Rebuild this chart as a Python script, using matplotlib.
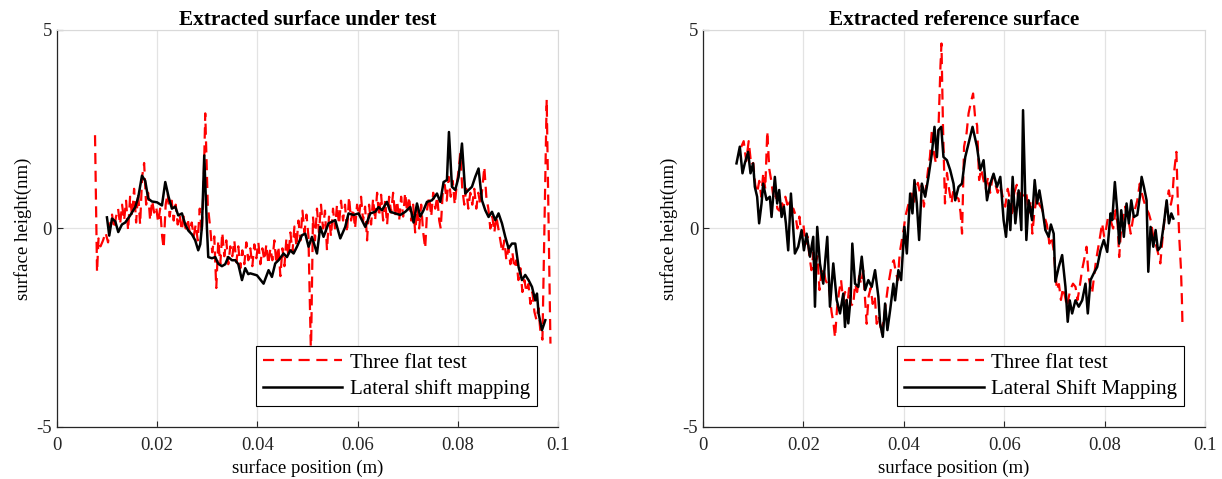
import numpy as np
import matplotlib
matplotlib.use('Agg')
import matplotlib.pyplot as plt

plt.rcParams.update({
    'font.family': 'serif',
    'font.serif': ['Liberation Serif', 'DejaVu Serif'],
    'axes.unicode_minus': False,
    'font.size': 13,
})

# ---- surface under test (positions in mm, heights in nm) ----
test_three_x = [7.6, 8.0, 8.3, 8.7, 9.2, 9.7, 10.2, 10.6, 11.0, 11.4, 11.8, 12.2, 12.6, 13.0, 13.4, 13.8,
                14.2, 14.6, 15.0, 15.4, 15.8, 16.2, 16.6, 17.0, 17.4, 17.8, 18.2, 18.6, 19.0, 19.4, 19.8,
                20.2, 20.6, 21.0, 21.3, 21.7, 22.1, 22.5, 22.9, 23.3, 23.7, 24.1, 24.5, 24.9, 25.3, 25.7,
                26.1, 26.5, 26.9, 27.3, 27.7, 28.1, 28.5, 28.9, 29.3, 29.6, 30.1, 30.6, 31.0, 31.4, 31.8,
                32.2, 32.6, 33.0, 33.4, 33.8, 34.2, 34.6, 35.0, 35.4, 35.8, 36.2, 36.6, 37.0, 37.4, 37.8,
                38.2, 38.6, 39.0, 39.4, 39.8, 40.2, 40.6, 41.0, 41.4, 41.8, 42.2, 42.6, 43.0, 43.4, 43.8,
                44.2, 44.6, 45.0, 45.4, 45.8, 46.2, 46.6, 47.0, 47.4, 47.8, 48.2, 48.6, 49.0, 49.4, 49.8,
                50.2, 50.7, 51.1, 51.5, 51.9, 52.3, 52.7, 53.1, 53.5, 53.9, 54.3, 54.7, 55.1, 55.5, 55.9,
                56.3, 56.7, 57.1, 57.5, 57.9, 58.3, 58.7, 59.1, 59.5, 59.9, 60.3, 60.7, 61.1, 61.5, 61.9,
                62.3, 62.7, 63.1, 63.5, 63.9, 64.3, 64.7, 65.1, 65.5, 65.9, 66.3, 66.7, 67.1, 67.5, 67.9,
                68.3, 68.7, 69.1, 69.5, 69.9, 70.3, 70.7, 71.1, 71.5, 71.9, 72.3, 72.7, 73.1, 73.5, 73.9,
                74.3, 74.7, 75.1, 75.5, 75.9, 76.3, 76.6, 77.0, 77.4, 77.8, 78.2, 78.6, 79.0, 79.4, 79.8,
                80.2, 80.5, 80.9, 81.3, 81.7, 82.1, 82.5, 82.9, 83.3, 83.7, 84.1, 84.5, 84.9, 85.3, 85.7,
                86.1, 86.5, 86.9, 87.3, 87.7, 88.1, 88.5, 88.9, 89.3, 89.7, 90.1, 90.5, 90.9, 91.3, 91.7,
                92.1, 92.5, 92.9, 93.3, 93.7, 94.1, 94.5, 94.9, 95.3, 95.7, 96.1, 96.5, 96.9, 97.75, 98.5]
test_three_y = [2.35, -1.1, -0.25, -0.45, -0.3, -0.1, -0.35, 0.1, 0.35, 0.0, 0.3, 0.5, 0.1, 0.6, 0.2, 0.7,
                -0.05, 0.8, 0.3, 1.0, 0.15, 0.9, 0.1, 1.3, 1.65, 0.6, 0.9, 0.2, 0.7, 0.4, 0.55,
                0.15, 0.5, -0.2, -0.5, 0.6, 0.9, 0.3, 0.7, 0.2, 0.6, 0.1, 0.35, -0.05, 0.3, 0.0,
                0.25, -0.1, 0.15, -0.2, 0.1, -0.3, 0.5, -0.1, 1.2, 2.9, 0.6, 0.0, -0.6, -0.2, -1.5,
                -0.3, -0.9, -0.1, -0.7, -0.3, -0.9, -0.45, -0.7, -0.3, -0.85, -0.45, -1.0, -0.55, -0.9, -0.35,
                -0.8, -0.5, -0.95, -0.4, -0.75, -0.35, -0.9, -0.5, -0.8, -0.4, -0.9, -0.5, -0.8, -0.3, -0.9,
                -0.45, -1.2, -0.5, -0.95, -0.25, -0.7, -0.1, -0.6, 0.05, -0.45, 0.2, -0.3, 0.45, -0.1, 0.35,
                -0.2, -3.2, 0.3, -0.3, 0.5, -0.1, 0.6, 0.0, 0.45, -0.55, 0.3, -0.2, 0.5, 0.0, 0.6,
                0.1, 0.7, 0.2, 0.6, -0.1, 0.8, 0.2, 0.5, 0.0, 0.6, 0.3, 0.8, 0.2, 0.55, -0.3,
                0.6, 0.1, 0.75, 0.2, 0.9, 0.3, 0.85, 0.2, 0.7, 0.1, 0.8, 0.4, 0.9, 0.3, 0.7,
                0.2, 0.8, 0.3, 0.9, 0.4, 0.8, 0.2, 0.6, -0.1, 0.5, 0.0, 0.6, -0.1, -0.5, 0.5,
                0.8, 0.3, 0.9, 0.5, 0.8, 0.2, 0.0, 0.9, 1.1, 0.7, 1.3, 0.8, 1.2, 0.6, 1.1,
                1.5, 1.9, 1.0, 0.6, 1.0, 0.5, 0.9, 0.6, 1.0, 0.5, 0.9, 0.6, 1.0, 1.55, 0.8,
                0.5, 0.0, 0.3, -0.1, 0.3, 0.0, -0.3, -0.6, -0.3, -0.8, -0.5, -0.9, -0.6, -1.0, -0.8,
                -1.3, -1.0, -1.6, -1.3, -1.6, -1.4, -1.9, -1.6, -2.1, -2.3, -2.0, -2.6, -2.8, 3.25, -2.9]

test_lsm_x = [9.98, 10.44, 10.98, 11.64, 12.24, 12.97, 13.63, 14.63, 15.63, 16.23, 16.97, 17.62, 18.22,
              18.96, 19.96, 20.96, 21.62, 22.28, 22.95, 23.61, 24.21, 24.95, 25.61, 26.21, 26.95, 27.6,
              28.2, 28.6, 28.94, 29.4, 29.94, 30.2, 30.94, 31.6, 32.2, 32.93, 33.59, 34.19, 34.93, 35.59,
              36.19, 36.93, 37.58, 38.18, 38.58, 39.92, 41.24, 42.24, 42.91, 43.57, 44.23, 45.23, 45.91,
              46.57, 47.23, 47.9, 48.9, 49.56, 50.22, 50.9, 51.9, 52.55, 53.21, 54.21, 55.55, 56.55,
              57.54, 58.2, 59.2, 60.2, 61.54, 62.54, 63.53, 64.19, 64.87, 65.87, 66.53, 67.52, 68.52,
              69.52, 70.52, 71.18, 71.86, 72.52, 73.17, 73.85, 74.85, 75.85, 76.51, 77.17, 77.84, 78.24,
              78.84, 79.5, 80.16, 80.84, 81.5, 82.16, 82.83, 83.49, 84.15, 84.83, 85.49, 86.15, 86.83,
              87.49, 88.14, 88.82, 89.48, 90.14, 90.82, 91.48, 92.14, 92.81, 93.47, 94.13, 94.81, 95.47,
              95.81, 96.13, 96.81, 97.47]
test_lsm_y = [0.28, -0.18, 0.25, 0.18, -0.09, 0.1, 0.15, 0.33, 0.54, 0.79, 1.33, 1.2, 0.75,
              0.68, 0.66, 0.58, 1.17, 0.8, 0.5, 0.55, 0.33, 0.38, 0.1, -0.05, -0.15, -0.3,
              -0.55, -0.4, 0.05, 1.84, 0.0, -0.72, -0.75, -0.72, -0.89, -0.95, -0.9, -0.72, -0.8, -0.8,
              -0.9, -1.3, -1.0, -1.15, -1.13, -1.18, -1.39, -1.05, -1.22, -0.88, -0.8, -0.63, -0.72,
              -0.55, -0.63, -0.46, -0.17, -0.13, -0.46, -0.21, -0.63, 0.04, -0.21, 0.13, 0.21, -0.25,
              0.04, 0.38, 0.34, 0.38, 0.04, 0.38, 0.42, 0.54, 0.46, 0.67, 0.42, 0.38, 0.34,
              0.42, 0.54, 0.15, 0.63, 0.3, 0.46, 0.67, 0.71, 0.88, 0.67, 1.17, 1.22, 2.43,
              1.05, 0.97, 1.3, 2.14, 0.88, 0.97, 1.05, 1.3, 1.51, 0.71, 0.46, 0.29, 0.42,
              0.21, 0.38, 0.13, -0.21, -0.5, -0.38, -0.38, -0.97, -1.3, -1.17, -1.3, -1.47, -1.81,
              -1.64, -2.14, -2.56, -2.31]

# ---- reference surface (positions in mm, heights in nm) ----
ref_three_x = [7.6, 8.1, 8.6, 9.1, 9.6, 10.0, 10.4, 10.8, 11.2, 11.6, 12.0, 12.4, 12.8, 13.2, 13.6, 14.0,
               14.4, 14.8, 15.2, 15.6, 16.0, 16.4, 16.8, 17.2, 17.6, 18.0, 18.4, 18.8, 19.2, 19.6, 20.0,
               20.4, 20.8, 21.2, 21.6, 22.0, 22.4, 22.8, 23.2, 23.6, 24.0, 24.4, 24.8, 25.2, 25.6, 26.0,
               26.3, 26.7, 27.1, 27.5, 27.9, 28.3, 28.7, 29.1, 29.5, 29.9, 30.3, 30.7, 31.1, 31.5, 31.9,
               32.3, 32.6, 33.0, 33.4, 33.8, 34.2, 34.6, 35.0, 35.6, 36.0, 36.4, 36.8, 37.2, 37.6, 38.0,
               38.4, 38.8, 39.2, 39.6, 40.0, 40.3, 40.7, 41.1, 41.6, 42.0, 42.4, 42.8, 43.2, 43.6, 44.0,
               44.4, 44.8, 45.2, 45.6, 46.0, 46.4, 46.9, 47.3, 47.5, 47.8, 48.2, 48.6, 49.0, 49.5, 49.9,
               50.3, 50.9, 51.3, 51.6, 52.0, 52.5, 52.9, 53.4, 53.8, 54.2, 54.6, 55.0, 55.4, 55.9, 56.3,
               56.8, 57.2, 57.7, 58.2, 58.7, 59.2, 59.7, 60.2, 60.7, 61.2, 61.6, 62.0, 62.5, 62.9, 63.4,
               63.9, 64.4, 64.9, 65.3, 65.6, 66.0, 66.5, 67.0, 67.5, 68.0, 68.5, 69.0, 69.4, 69.8, 70.2,
               70.5, 70.9, 71.3, 71.7, 72.1, 72.5, 72.9, 73.3, 73.7, 74.2, 74.6, 75.0, 75.5, 75.9, 76.4,
               76.8, 77.2, 77.5, 77.9, 78.3, 78.7, 79.1, 79.5, 79.9, 80.3, 80.7, 81.2, 81.7, 82.2, 82.6,
               82.9, 83.3, 83.7, 84.1, 84.5, 84.9, 85.2, 85.6, 86.0, 86.5, 87.0, 87.4, 87.8, 88.3, 88.8,
               89.2, 89.6, 90.0, 90.4, 90.8, 91.1, 91.5, 91.9, 92.4, 92.8, 93.2, 93.5, 93.8, 94.3, 94.6,
               94.9, 95.2, 95.4, 95.5]
ref_three_y = [2.05, 2.2, 1.7, 2.2, 1.6, 1.65, 1.1, 0.9, 1.2, 0.8, 1.4, 1.0, 2.45, 1.5, 1.2, 0.8,
               1.0, 0.5, 0.45, 0.7, 0.5, 0.8, 0.6, 0.75, 0.3, 0.5, 0.35, 0.0, 0.3, -0.2, 0.1,
               -0.4, -0.2, -0.7, -1.05, -0.6, -0.9, -0.7, -1.55, -1.1, -1.0, -1.3, -1.4, -1.6, -2.1, -2.4,
               -2.75, -2.0, -1.6, -1.3, -1.8, -1.6, -2.0, -1.5, -1.9, -1.95, -1.4, -1.6, -1.2, -1.4, -1.05,
               -1.8, -2.4, -1.7, -1.5, -1.9, -1.7, -2.4, -2.2, -2.65, -2.3, -1.9, -1.5, -1.2, -0.9, -0.8,
               -1.1, -1.3, -0.6, -0.3, 0.0, 0.3, 0.5, 0.7, 0.88, 0.6, 1.0, 1.15, 0.9, 1.1, 0.55,
               1.0, 1.45, 1.8, 2.5, 1.9, 1.64, 2.5, 4.1, 4.66, 2.6, 0.63, 1.4, 1.0, 0.63, 1.0,
               0.8, 0.75, 0.4, -0.13, 2.06, 2.4, 2.9, 3.2, 3.4, 2.8, 2.6, 1.22, 1.5, 1.2, 1.0,
               1.3, 0.9, 1.3, 1.13, 0.9, 1.1, 0.8, 0.55, 1.0, 0.7, 0.3, 0.9, 1.1, 0.6, 0.9,
               0.8, 0.9, 0.4, 0.7, -0.13, 0.4, 0.8, 0.6, 0.5, 0.3, 0.1, -0.38, -0.2, -0.5, -1.1,
               -1.55, -1.4, -1.8, -1.5, -1.7, -1.97, -1.7, -1.5, -1.39, -1.47, -1.8, -1.5, -1.05, -0.8, -0.46,
               -1.2, -1.5, -1.64, -1.2, -0.8, -0.5, -0.2, 0.13, -0.2, 0.0, 0.3, 0.2, 0.0, 0.46, 0.1,
               -0.72, 0.0, 0.3, 0.55, 0.2, 0.1, -0.13, 0.2, 0.46, 0.7, 1.13, 0.9, 0.7, 0.5, 0.38,
               0.2, -0.13, -0.3, -0.5, -0.7, -0.88, -0.3, 0.2, 0.71, 0.96, 0.6, 0.8, 1.38, 1.93, 0.6,
               -0.3, -1.0, -1.8, -2.39]

ref_lsm_x = [6.67, 7.33, 7.86, 8.32, 8.98, 9.46, 9.98, 10.32, 10.78, 11.18, 11.66, 11.98, 12.65, 13.31,
             13.65, 14.31, 14.77, 15.17, 15.65, 16.11, 16.51, 16.97, 17.51, 18.3, 18.96, 19.64, 20.1,
             20.64, 21.3, 21.96, 22.3, 22.75, 23.29, 23.95, 24.75, 25.29, 25.95, 26.63, 27.29, 27.94,
             28.28, 28.62, 28.94, 29.42, 29.74, 30.28, 30.94, 31.62, 32.28, 32.93, 33.61, 34.27, 34.93,
             35.27, 35.81, 36.27, 36.73, 37.27, 37.92, 38.26, 38.92, 39.46, 40.12, 40.6, 41.26, 41.72,
             42.12, 42.59, 43.05, 43.59, 44.25, 44.91, 45.59, 46.11, 46.59, 46.91, 47.45, 47.9, 48.58,
             49.24, 49.9, 50.24, 50.9, 51.58, 52.24, 52.89, 53.69, 54.57, 55.23, 55.89, 56.57, 57.23,
             57.88, 58.56, 59.22, 59.88, 60.36, 60.88, 61.22, 61.68, 62.22, 62.87, 63.41, 63.75, 64.41,
             64.87, 65.55, 66.07, 66.55, 67.01, 67.54, 68.2, 68.86, 69.3, 69.86, 70.2, 70.86, 71.54,
             72.2, 72.65, 73.05, 73.53, 74.19, 74.85, 75.53, 76.19, 76.65, 77.19, 77.84, 78.52, 79.18,
             79.84, 80.52, 81.18, 81.52, 82.04, 82.51, 82.91, 83.31, 83.83, 84.37, 84.83, 85.31, 85.83,
             86.51, 87.03, 87.37, 87.82, 88.36, 88.7, 89.16, 89.7, 90.16, 90.62, 91.16, 91.82, 92.36,
             92.81, 93.29, 93.69]
ref_lsm_y = [1.64, 2.06, 1.39, 1.64, 1.93, 1.39, 1.64, 1.05, 0.8, 0.13, 0.63, 1.13, 0.72, 0.8,
             0.29, 1.3, 0.63, 0.97, 0.29, 0.55, 0.13, -0.55, 0.88, -0.63, -0.46, -0.04, -0.55,
             -0.13, -0.71, -0.21, -1.97, 0.04, -0.88, -1.39, -0.21, -1.97, -0.88, -1.8, -2.14, -1.64,
             -2.48, -1.8, -2.39, -1.72, -0.38, -1.39, -1.47, -0.71, -1.55, -1.3, -1.47, -1.05, -1.72,
             -2.39, -2.73, -1.89, -2.56, -2.06, -1.39, -1.81, -1.05, -1.3, 0.04, -0.63, 0.88, 0.38,
             1.22, 0.63, -0.29, 1.13, 0.8, 1.3, 1.89, 2.56, 1.8, 2.48, 2.56, 1.8, 1.72,
             1.47, 1.13, 0.71, 1.05, 1.13, 1.8, 2.14, 2.56, 2.06, 1.47, 1.72, 0.71, 1.13,
             1.38, 1.05, 1.3, 0.21, -0.21, 0.71, -0.04, 1.3, 0.13, 0.96, -0.04, 2.98, -0.29,
             0.71, 0.21, 1.22, 0.63, 0.96, 0.55, -0.04, -0.21, 0.1, -0.13, -1.34, -0.97, -0.67,
             -1.47, -2.35, -1.81, -2.14, -1.81, -1.97, -1.81, -1.39, -2.14, -1.3, -1.13, -0.97, -0.55,
             -0.29, -0.59, 0.38, 0.21, 1.17, 0.46, -0.38, 0.46, -0.21, 0.63, 0.13, 0.71, 0.29,
             0.34, 0.8, 1.3, 1.05, 0.71, -1.09, 0.04, -0.46, -0.04, -0.55, -0.46, 0.13, 0.71,
             0.13, 0.38, 0.25]

panels = [
    ('Extracted surface under test', test_three_x, test_three_y, test_lsm_x, test_lsm_y,
     'Lateral shift mapping'),
    ('Extracted reference surface', ref_three_x, ref_three_y, ref_lsm_x, ref_lsm_y,
     'Lateral Shift Mapping'),
]

fig = plt.figure(figsize=(12.22, 4.79), dpi=100)
ax_boxes = [[0.0466, 0.1086, 0.410, 0.8288], [0.5753, 0.1086, 0.4108, 0.8288]]

for box, (title, rx, ry, bx, by, blabel) in zip(ax_boxes, panels):
    ax = fig.add_axes(box)
    ax.plot(np.array(rx) / 1000, ry, color='red', lw=1.6, dashes=(5, 3), label='Three flat test')
    ax.plot(np.array(bx) / 1000, by, color='black', lw=1.8, label=blabel)

    ax.set_xlim(0, 0.1)
    ax.set_ylim(-5, 5)
    ax.set_xticks([0, 0.02, 0.04, 0.06, 0.08, 0.1])
    ax.set_xticklabels(['0', '0.02', '0.04', '0.06', '0.08', '0.1'])
    ax.set_yticks([-5, 0, 5])
    ax.grid(True, color='#e3e3e3', lw=0.9)
    ax.set_axisbelow(True)
    ax.tick_params(direction='in', length=4, width=0.8, colors='#262626', labelsize=13.5,
                   labelcolor='#262626')
    ax.tick_params(axis='x', pad=7)
    for side in ['top', 'right']:
        ax.spines[side].set_color('#d9d9d9')
    for side in ['left', 'bottom']:
        ax.spines[side].set_color('#262626')
        ax.spines[side].set_linewidth(0.9)

    ax.set_title(title, fontsize=15.3, fontweight='bold', pad=3)
    ax.set_xlabel('surface position (m)', fontsize=13.5, labelpad=4)
    ax.set_ylabel('surface height(nm)', fontsize=13.5, labelpad=3)

    leg = ax.legend(loc='lower right', fontsize=15, handlelength=3.8, fancybox=False,
                    framealpha=1, edgecolor='black', borderaxespad=1.0, borderpad=0.35,
                    labelspacing=0.3, handletextpad=0.35)
    leg.get_frame().set_linewidth(0.8)

plt.savefig('out.png', dpi=100)
